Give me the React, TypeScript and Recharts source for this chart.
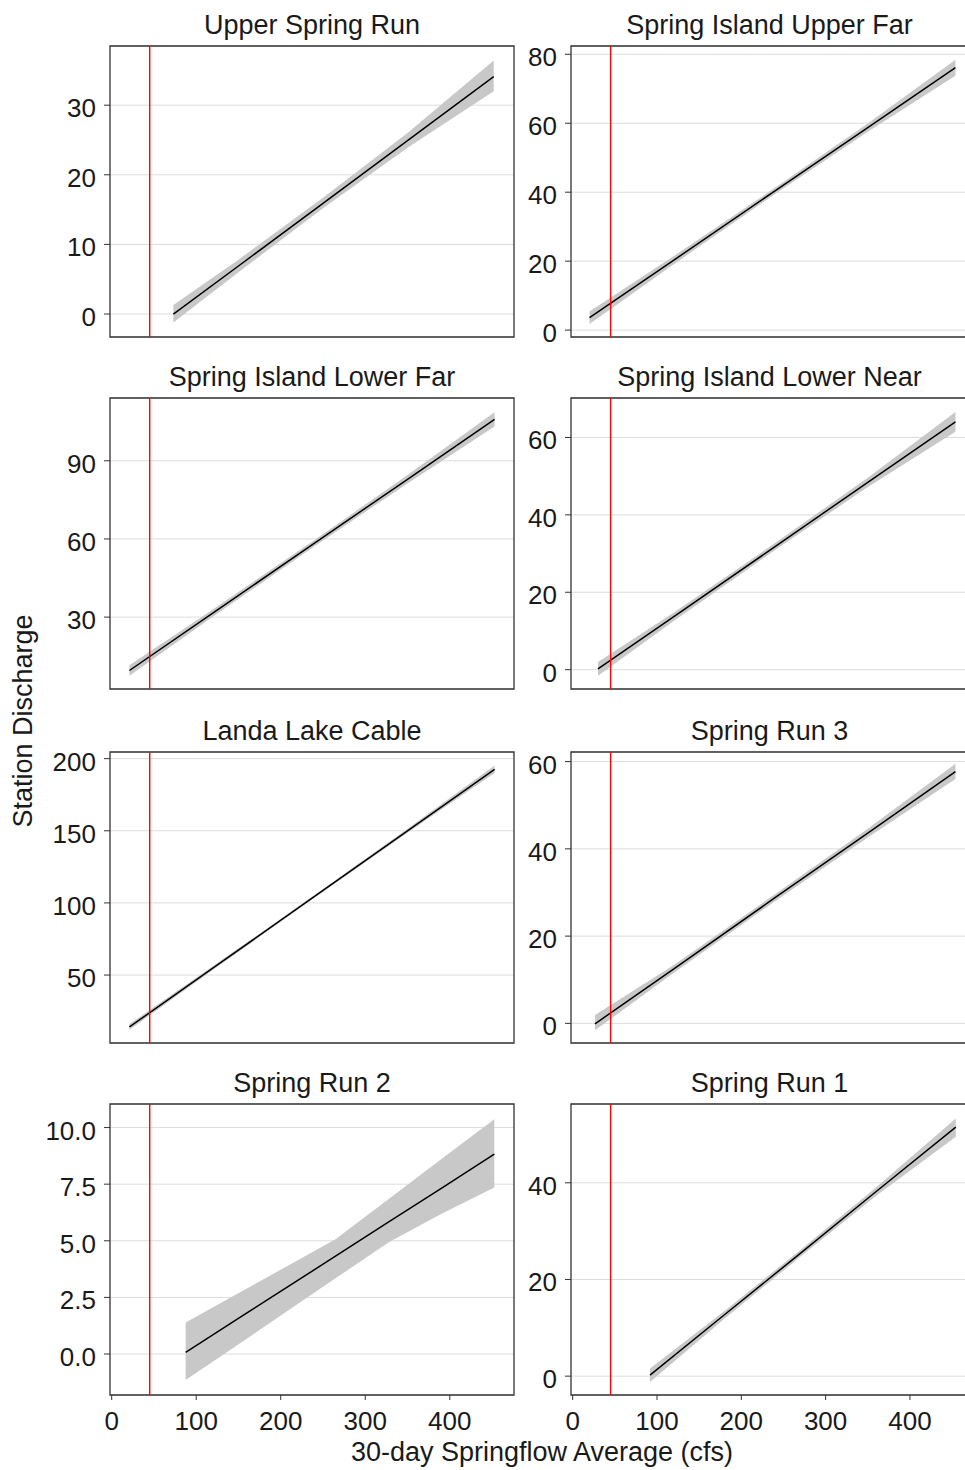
import React from 'react';
import {
  ComposedChart,
  Area,
  Line,
  XAxis,
  YAxis,
  CartesianGrid,
  ReferenceLine,
  ReferenceArea
} from 'recharts';

const FONT = "'Liberation Sans', Arial, sans-serif";
const INK = '#1a1a1a';

// shared x axis (30-day springflow average, cfs)
const flowTicks = [0, 100, 200, 300, 400];
const flowDomain = [-2, 476];
const threshold = 45;

// Upper Spring Run
const usrFlow = [73, 150, 250, 350, 452];
const usrFit = [0, 6.9, 15.9, 24.9, 34.1];
const usrLow = [-1.2, 6.0, 15.2, 23.9, 32.0];
const usrHigh = [1.3, 7.8, 16.7, 26.0, 36.4];

// Spring Island Upper Far
const siufFlow = [20, 120, 240, 350, 454];
const siufFit = [3.6, 20.3, 40.4, 58.7, 76.1];
const siufLow = [1.8, 19.1, 39.5, 57.5, 73.8];
const siufHigh = [5.4, 21.5, 41.3, 59.9, 78.4];

// Spring Island Lower Far
const silfFlow = [21, 120, 240, 350, 453];
const silfFit = [9.5, 31.6, 58.4, 82.9, 105.9];
const silfLow = [7.5, 30.2, 57.2, 81.3, 103.2];
const silfHigh = [11.5, 33.0, 59.6, 84.5, 108.6];

// Spring Island Lower Near
const silnFlow = [30, 120, 240, 350, 454];
const silnFit = [0.2, 13.7, 31.8, 48.4, 64.0];
const silnLow = [-1.6, 12.6, 30.9, 47.2, 61.5];
const silnHigh = [2.0, 14.8, 32.7, 49.6, 66.6];

// Landa Lake Cable
const llcFlow = [21, 120, 240, 350, 453];
const llcFit = [14, 54.9, 104.5, 150.0, 192.6];
const llcLow = [12, 53.6, 103.5, 148.6, 190.0];
const llcHigh = [16, 56.2, 105.5, 151.4, 195.2];

// Spring Run 3
const sr3Flow = [26.5, 120, 240, 350, 454];
const sr3Fit = [-0.1, 12.5, 28.8, 43.6, 57.7];
const sr3Low = [-1.6, 11.6, 28.0, 42.6, 56.0];
const sr3High = [1.9, 13.4, 29.6, 44.6, 59.5];

// Spring Run 2
const sr2Flow = [87.5, 154.5, 264.8, 327.8, 390.9, 452.7];
const sr2Fit = [0.07, 1.68, 4.32, 5.84, 7.34, 8.83];
const sr2Low = [-1.15, 0.54, 3.34, 4.93, 6.2, 7.35];
const sr2High = [1.39, 2.78, 5.07, 6.85, 8.63, 10.37];

// Spring Run 1
const sr1Flow = [91.7, 180, 270, 360, 454.4];
const sr1Fit = [0.2, 12.7, 25.4, 38.2, 51.5];
const sr1Low = [-1.2, 11.9, 24.7, 37.3, 49.5];
const sr1High = [1.6, 13.5, 26.1, 39.1, 53.3];

const panels = [
  { title: 'Upper Spring Run', flow: usrFlow, fit: usrFit, low: usrLow, high: usrHigh, yDomain: [-3.3, 38.5], yTicks: [0, 10, 20, 30], digits: 0 },
  { title: 'Spring Island Upper Far', flow: siufFlow, fit: siufFit, low: siufLow, high: siufHigh, yDomain: [-2.0, 82.4], yTicks: [0, 20, 40, 60, 80], digits: 0 },
  { title: 'Spring Island Lower Far', flow: silfFlow, fit: silfFit, low: silfLow, high: silfHigh, yDomain: [2.4, 114.1], yTicks: [30, 60, 90], digits: 0 },
  { title: 'Spring Island Lower Near', flow: silnFlow, fit: silnFit, low: silnLow, high: silnHigh, yDomain: [-5.0, 70.2], yTicks: [0, 20, 40, 60], digits: 0 },
  { title: 'Landa Lake Cable', flow: llcFlow, fit: llcFit, low: llcLow, high: llcHigh, yDomain: [2.9, 204.6], yTicks: [50, 100, 150, 200], digits: 0 },
  { title: 'Spring Run 3', flow: sr3Flow, fit: sr3Fit, low: sr3Low, high: sr3High, yDomain: [-4.5, 62.2], yTicks: [0, 20, 40, 60], digits: 0 },
  { title: 'Spring Run 2', flow: sr2Flow, fit: sr2Fit, low: sr2Low, high: sr2High, yDomain: [-1.81, 11.04], yTicks: [0, 2.5, 5, 7.5, 10], digits: 1 },
  { title: 'Spring Run 1', flow: sr1Flow, fit: sr1Fit, low: sr1Low, high: sr1High, yDomain: [-3.9, 56.3], yTicks: [0, 20, 40], digits: 0 },
];

const colX = [110, 571];
const colW = [404, 403];
const titleCenter = [312, 769.5];
const rowTop = [46, 398, 751.5, 1103.5];
const panelH = 291;
const yAxisW = 80;

const YTick = ({ x, y, payload, digits }: any) => (
  <text x={x} y={y} dy={12} textAnchor="end" fontSize={26} fill={INK} fontFamily={FONT}>
    {payload.value.toFixed(digits)}
  </text>
);

const XTick = ({ x, y, payload }: any) => (
  <text x={x} y={y} dy={18} textAnchor="middle" fontSize={26} fill={INK} fontFamily={FONT}>
    {payload.value}
  </text>
);

const Panel = ({ p, idx }: any) => {
  const col = idx % 2;
  const row = Math.floor(idx / 2);
  const bottom = row === 3;
  const pw = colW[col];
  const data = p.flow.map((x: number, i: number) => ({ x, fit: p.fit[i], band: [p.low[i], p.high[i]] }));
  const w = yAxisW + pw + 5;
  const h = 15 + panelH + (bottom ? 45 : 0) + 20;
  return (
    <div style={{ position: 'absolute', left: colX[col] - yAxisW, top: rowTop[row] - 15 }}>
      <ComposedChart width={w} height={h} data={data} margin={{ top: 15, right: 5, bottom: 20, left: 0 }}>
        <CartesianGrid vertical={false} stroke="#dcdcdc" strokeWidth={1} />
        <XAxis
          type="number"
          dataKey="x"
          domain={flowDomain}
          allowDataOverflow
          ticks={flowTicks}
          interval={0}
          hide={!bottom}
          height={45}
          axisLine={false}
          tickSize={5}
          tickMargin={12}
          tickLine={{ stroke: '#333' }}
          tick={<XTick />}
        />
        <YAxis
          type="number"
          domain={p.yDomain}
          allowDataOverflow
          ticks={p.yTicks}
          interval={0}
          width={yAxisW}
          axisLine={false}
          tickSize={6}
          tickMargin={8}
          tickLine={{ stroke: '#333' }}
          tick={<YTick digits={p.digits} />}
        />
        <Area
          type="linear"
          dataKey="band"
          stroke="none"
          fill="#c8c8c8"
          fillOpacity={1}
          isAnimationActive={false}
          activeDot={false}
        />
        <Line
          type="linear"
          dataKey="fit"
          stroke="#000"
          strokeWidth={1.5}
          dot={false}
          isAnimationActive={false}
        />
        <ReferenceLine x={threshold} stroke="#ff0000" strokeWidth={1.4} />
        <ReferenceArea
          x1={flowDomain[0]}
          x2={flowDomain[1]}
          y1={p.yDomain[0]}
          y2={p.yDomain[1]}
          fill="none"
          stroke="#333"
          strokeWidth={1.3}
          ifOverflow="visible"
        />
      </ComposedChart>
    </div>
  );
};

export default function App() {
  return (
    <div
      style={{
        position: 'absolute',
        left: 0,
        top: 0,
        width: 965,
        height: 1470,
        overflow: 'hidden',
        background: '#fff',
        fontFamily: FONT,
      }}
    >
      {panels.map((p, i) => (
        <Panel key={p.title} p={p} idx={i} />
      ))}
      <svg width={965} height={1470} style={{ position: 'absolute', left: 0, top: 0, pointerEvents: 'none' }}>
        {panels.map((p, i) => {
          const col = i % 2;
          const row = Math.floor(i / 2);
          return (
            <text
              key={p.title}
              x={titleCenter[col]}
              y={rowTop[row] - 12}
              textAnchor="middle"
              fontSize={27}
              fill={INK}
              fontFamily={FONT}
            >
              {p.title}
            </text>
          );
        })}
        <text x={542} y={1461} textAnchor="middle" fontSize={27} fill={INK} fontFamily={FONT}>
          30-day Springflow Average (cfs)
        </text>
        <text
          x={32}
          y={721}
          transform="rotate(-90, 32, 721)"
          textAnchor="middle"
          fontSize={27}
          fill={INK}
          fontFamily={FONT}
        >
          Station Discharge
        </text>
      </svg>
    </div>
  );
}
